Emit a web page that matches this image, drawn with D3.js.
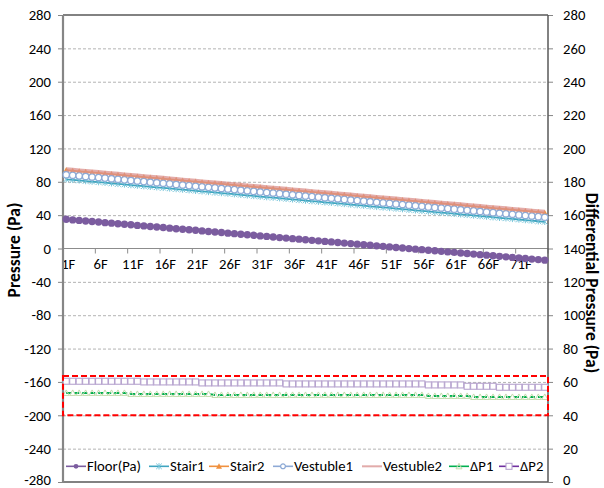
<!DOCTYPE html>
<html>
<head>
<meta charset="utf-8">
<script src="https://cdn.jsdelivr.net/npm/d3@7"></script>
<style>
  html, body { margin: 0; padding: 0; background: #fff; }
  svg { display: block; }
  text { font-family: Calibri, Carlito, Lato, "Liberation Sans", sans-serif; fill: #000; }
</style>
</head>
<body>
<svg id="chart" width="604" height="488"></svg>
<script>
// Floors 1F..75F
const floors = Array.from({length: 75}, (_, i) => (i + 1) + "F");

// Pressures on the left axis (Pa)
const floorPa = [
  35.0, 34.3, 33.7, 33.0, 32.4, 31.7, 31.0, 30.4, 29.7, 29.0,
  28.4, 27.7, 27.1, 26.4, 25.7, 25.1, 24.4, 23.7, 23.1, 22.4,
  21.8, 21.1, 20.4, 19.8, 19.1, 18.4, 17.8, 17.1, 16.5, 15.8,
  15.1, 14.5, 13.8, 13.1, 12.5, 11.8, 11.2, 10.5, 9.8, 9.2,
  8.5, 7.9, 7.2, 6.5, 5.9, 5.2, 4.5, 3.9, 3.2, 2.6,
  1.9, 1.2, 0.6, -0.1, -0.8, -1.4, -2.1, -2.7, -3.4, -4.1,
  -4.7, -5.4, -6.0, -6.7, -7.4, -8.0, -8.7, -9.4, -10.0, -10.7,
  -11.3, -12.0, -12.7, -13.3, -14.0
];
const stair1 = [
  83.0, 82.3, 81.6, 80.9, 80.2, 79.6, 78.9, 78.2, 77.5, 76.8,
  76.1, 75.4, 74.7, 74.0, 73.4, 72.7, 72.0, 71.3, 70.6, 69.9,
  69.2, 68.5, 67.8, 67.2, 66.5, 65.8, 65.1, 64.4, 63.7, 63.0,
  62.3, 61.6, 61.0, 60.3, 59.6, 58.9, 58.2, 57.5, 56.8, 56.1,
  55.4, 54.8, 54.1, 53.4, 52.7, 52.0, 51.3, 50.6, 49.9, 49.2,
  48.6, 47.9, 47.2, 46.5, 45.8, 45.1, 44.4, 43.7, 43.0, 42.4,
  41.7, 41.0, 40.3, 39.6, 38.9, 38.2, 37.5, 36.8, 36.2, 35.5,
  34.8, 34.1, 33.4, 32.7, 32.0
];
const stair2 = [
  94.0, 93.3, 92.6, 91.9, 91.2, 90.6, 89.9, 89.2, 88.5, 87.8,
  87.1, 86.4, 85.7, 85.0, 84.4, 83.7, 83.0, 82.3, 81.6, 80.9,
  80.2, 79.5, 78.8, 78.2, 77.5, 76.8, 76.1, 75.4, 74.7, 74.0,
  73.3, 72.6, 72.0, 71.3, 70.6, 69.9, 69.2, 68.5, 67.8, 67.1,
  66.4, 65.8, 65.1, 64.4, 63.7, 63.0, 62.3, 61.6, 60.9, 60.2,
  59.6, 58.9, 58.2, 57.5, 56.8, 56.1, 55.4, 54.7, 54.0, 53.4,
  52.7, 52.0, 51.3, 50.6, 49.9, 49.2, 48.5, 47.8, 47.2, 46.5,
  45.8, 45.1, 44.4, 43.7, 43.0
];
const vestuble1 = [
  88.5, 87.8, 87.1, 86.4, 85.7, 85.1, 84.4, 83.7, 83.0, 82.3,
  81.6, 80.9, 80.2, 79.5, 78.9, 78.2, 77.5, 76.8, 76.1, 75.4,
  74.7, 74.0, 73.3, 72.7, 72.0, 71.3, 70.6, 69.9, 69.2, 68.5,
  67.8, 67.1, 66.5, 65.8, 65.1, 64.4, 63.7, 63.0, 62.3, 61.6,
  60.9, 60.3, 59.6, 58.9, 58.2, 57.5, 56.8, 56.1, 55.4, 54.7,
  54.1, 53.4, 52.7, 52.0, 51.3, 50.6, 49.9, 49.2, 48.5, 47.9,
  47.2, 46.5, 45.8, 45.1, 44.4, 43.7, 43.0, 42.3, 41.7, 41.0,
  40.3, 39.6, 38.9, 38.2, 37.5
];
const vestuble2 = [
  95.0, 94.3, 93.6, 92.9, 92.2, 91.6, 90.9, 90.2, 89.5, 88.8,
  88.1, 87.4, 86.7, 86.0, 85.4, 84.7, 84.0, 83.3, 82.6, 81.9,
  81.2, 80.5, 79.8, 79.2, 78.5, 77.8, 77.1, 76.4, 75.7, 75.0,
  74.3, 73.6, 73.0, 72.3, 71.6, 70.9, 70.2, 69.5, 68.8, 68.1,
  67.4, 66.8, 66.1, 65.4, 64.7, 64.0, 63.3, 62.6, 61.9, 61.2,
  60.6, 59.9, 59.2, 58.5, 57.8, 57.1, 56.4, 55.7, 55.0, 54.4,
  53.7, 53.0, 52.3, 51.6, 50.9, 50.2, 49.5, 48.8, 48.2, 47.5,
  46.8, 46.1, 45.4, 44.7, 44.0
];

// Differential pressures on the right axis (Pa)
const dP1 = [
  53.4, 53.4, 53.4, 53.4, 53.4, 53.4, 53.4, 53.4, 53.4, 53.4,
  52.8, 52.8, 52.8, 52.8, 52.8, 52.8, 52.8, 52.8, 52.8, 52.8,
  52.8, 52.8, 52.8, 52.2, 52.2, 52.2, 52.2, 52.2, 52.2, 52.2,
  52.2, 52.2, 52.2, 52.2, 52.2, 52.2, 52.2, 52.2, 52.2, 52.2,
  52.2, 52.2, 52.2, 52.2, 52.2, 52.2, 52.2, 52.2, 52.2, 52.2,
  52.2, 52.2, 52.2, 52.2, 52.2, 52.2, 51.6, 51.6, 51.6, 51.6,
  51.6, 51.6, 51.6, 51.0, 51.0, 51.0, 51.0, 51.0, 51.0, 51.0,
  51.0, 51.0, 51.0, 51.0, 51.0
];
const dP2 = [
  60.4, 60.4, 60.4, 60.4, 60.4, 60.4, 60.4, 60.4, 60.4, 60.4,
  60.4, 60.4, 60.0, 60.0, 60.0, 60.0, 60.0, 60.0, 60.0, 60.0,
  60.0, 59.4, 59.4, 59.4, 59.4, 59.4, 59.4, 59.4, 59.4, 59.4,
  59.4, 59.4, 59.4, 59.4, 58.8, 58.8, 58.8, 58.8, 58.8, 58.8,
  58.8, 58.8, 58.8, 58.8, 58.8, 58.8, 58.8, 58.8, 58.8, 58.8,
  58.8, 58.8, 58.8, 58.8, 58.8, 58.8, 58.2, 58.2, 58.2, 58.2,
  58.2, 58.2, 57.4, 57.4, 57.4, 57.4, 57.4, 56.8, 56.8, 56.8,
  56.8, 56.8, 56.8, 56.8, 56.8
];

// Axis ticks
const leftTicks = [-280, -240, -200, -160, -120, -80, -40, 0, 40, 80, 120, 160, 200, 240, 280];
const rightTicks = [0, 20, 40, 60, 80, 100, 120, 140, 160, 180, 200, 220, 240, 260, 280];
// Band of interest on the differential axis
const band = [40, 63.6];

const svg = d3.select("#chart");
const L = 63, R = 548, T = 15, B = 482;
const FS = "14.7px";

const x = d3.scaleBand().domain(floors).range([L, R]);
const cx = d => x(d) + x.bandwidth() / 2;
const yL = d3.scaleLinear().domain([-280, 280]).range([B, T]);
const yR = d3.scaleLinear().domain([0, 280]).range([B, T]);

// Grid lines
svg.append("g").selectAll("line")
  .data(leftTicks.filter(v => v !== 0 && Math.abs(v) !== 280))
  .join("line")
  .attr("x1", L).attr("x2", R)
  .attr("y1", d => yL(d) + 0.5).attr("y2", d => yL(d) + 0.5)
  .attr("stroke", "#b3b3b3").attr("stroke-width", 1).attr("stroke-dasharray", "3,2");

// Left axis
const gl = svg.append("g").attr("transform", `translate(${L},0)`)
  .call(d3.axisLeft(yL).tickValues(leftTicks).tickSize(5).tickSizeOuter(0).tickFormat(d => String(d)));
gl.select(".domain").remove();
gl.selectAll(".tick line").attr("stroke", "#868686");
gl.selectAll(".tick text").attr("x", -12).style("font-size", FS).attr("fill", "#000")
  .attr("dy", d => d === -280 ? "0.2em" : "0.32em");

// Right axis
const gr = svg.append("g").attr("transform", `translate(${R},0)`)
  .call(d3.axisRight(yR).tickValues(rightTicks).tickSize(5).tickSizeOuter(0).tickFormat(d => String(d)));
gr.select(".domain").remove();
gr.selectAll(".tick line").attr("stroke", "#868686");
gr.selectAll(".tick text").attr("x", 15).style("font-size", FS).attr("fill", "#000")
  .attr("dy", d => d === 0 ? "0.2em" : "0.32em");

// Category axis at zero
const y0 = yL(0);
svg.append("line").attr("x1", L).attr("x2", R).attr("y1", y0).attr("y2", y0)
  .attr("stroke", "#8c8c8c").attr("stroke-width", 1.2);
const boundaries = floors.filter((d, i) => i % 5 === 0).map(d => x(d)).concat([R]);
svg.append("g").selectAll("line").data(boundaries).join("line")
  .attr("x1", d => d).attr("x2", d => d).attr("y1", y0).attr("y2", y0 + 5)
  .attr("stroke", "#8c8c8c");
svg.append("g").selectAll("text").data(floors.filter((d, i) => i % 5 === 0)).join("text")
  .attr("x", d => cx(d) + 2).attr("y", y0 + 20)
  .attr("text-anchor", "middle").style("font-size", FS).text(d => d);

// Plot frame
svg.append("line").attr("x1", L).attr("x2", R).attr("y1", T).attr("y2", T)
  .attr("stroke", "#595959").attr("stroke-width", 1.5);
svg.append("line").attr("x1", L).attr("x2", R).attr("y1", B).attr("y2", B)
  .attr("stroke", "#595959").attr("stroke-width", 1.5);
svg.append("line").attr("x1", R).attr("x2", R).attr("y1", T).attr("y2", B)
  .attr("stroke", "#595959").attr("stroke-width", 1.5);
svg.append("line").attr("x1", L).attr("x2", L).attr("y1", T).attr("y2", B)
  .attr("stroke", "#868686").attr("stroke-width", 2.2);

// Series
const series = [
  {name: "Floor(Pa)", values: floorPa, y: yL, color: "#7b5c9f", width: 1.5, marker: "dot", mcolor: "#7b5c9f"},
  {name: "Stair1", values: stair1, y: yL, color: "#3fa5c0", width: 1.8, marker: "star", mcolor: "#6cc0d6"},
  {name: "Stair2", values: stair2, y: yL, color: "#f0913f", width: 1.8, marker: "tri", mcolor: "#f0913f"},
  {name: "Vestuble1", values: vestuble1, y: yL, color: "#8eaad6", width: 1.5, marker: "ring", mcolor: "#8eaad6"},
  {name: "Vestuble2", values: vestuble2, y: yL, color: "#d9908e", width: 4, marker: null, opacity: 0.75},
  {name: "\u0394P1", values: dP1, y: yR, color: "#00b050", width: 2, dash: "5,3", marker: "tri-open", mcolor: "#c4dcae"},
  {name: "\u0394P2", values: dP2, y: yR, color: "#7030a0", width: 1.5, dash: "4,3", marker: "square", mcolor: "#b7a4cf"}
];

function drawMarker(g, type, color, size) {
  if (type === "dot") {
    g.append("circle").attr("r", size || 3.7).attr("fill", color);
  } else if (type === "ring") {
    g.append("circle").attr("r", size || 3.2).attr("fill", "#fff").attr("stroke", color).attr("stroke-width", 1.3);
  } else if (type === "tri") {
    g.append("path").attr("d", "M0,-3L3,2.5L-3,2.5Z").attr("fill", color);
  } else if (type === "tri-open") {
    g.append("path").attr("d", "M0,-3L3,2.5L-3,2.5Z").attr("fill", "none").attr("stroke", color).attr("stroke-width", 1);
  } else if (type === "square") {
    g.append("rect").attr("x", -3).attr("y", -3).attr("width", 6).attr("height", 6)
      .attr("fill", "#fff").attr("stroke", color).attr("stroke-width", 1.1);
  } else if (type === "star") {
    g.append("path").attr("d", "M-2.8,-2.8L2.8,2.8M-2.8,2.8L2.8,-2.8M0,-3.2L0,3.2")
      .attr("stroke", color).attr("stroke-width", 0.9).attr("fill", "none");
  }
}

series.forEach(s => {
  const line = d3.line().x((d, i) => cx(floors[i])).y(d => s.y(d));
  const g = svg.append("g");
  g.append("path").datum(s.values).attr("d", line)
    .attr("fill", "none").attr("stroke", s.color).attr("stroke-width", s.width)
    .attr("stroke-dasharray", s.dash || null).attr("opacity", s.opacity || 1);
  if (s.marker) {
    s.values.forEach((v, i) => {
      const m = g.append("g").attr("transform", `translate(${cx(floors[i])},${s.y(v)})`);
      drawMarker(m, s.marker, s.mcolor);
    });
  }
});

// Highlight box around the differential-pressure band
svg.append("rect")
  .attr("x", L).attr("y", yR(band[1]))
  .attr("width", R - L).attr("height", yR(band[0]) - yR(band[1]))
  .attr("fill", "none").attr("stroke", "#ff0000").attr("stroke-width", 2)
  .attr("stroke-dasharray", "6,3");

// Legend: each entry is a short line sample followed by its label
const legendX = [66, 149, 209, 273, 362, 449, 499];
const lg = svg.append("g").attr("transform", `translate(0,${yL(-260) + 1})`);
series.forEach((s, i) => {
  const item = lg.append("g").attr("transform", `translate(${legendX[i]},0)`);
  item.append("line").attr("x1", 0).attr("x2", 20).attr("y1", 0).attr("y2", 0)
    .attr("stroke", s.color).attr("stroke-width", s.name === "Vestuble2" ? 2 : 1.6)
    .attr("opacity", s.opacity || 1);
  if (s.marker) {
    const m = item.append("g").attr("transform", "translate(10,0)");
    drawMarker(m, s.marker, s.marker === "dot" ? s.color : s.mcolor, 2.4);
  }
  item.append("text").attr("x", 21).attr("y", 0).attr("dy", "0.35em")
    .style("font-size", FS).text(s.name);
});

// Axis titles
svg.append("text")
  .attr("transform", `translate(20,250) rotate(-90)`)
  .attr("text-anchor", "middle").style("font-size", "17.5px").style("font-weight", "bold")
  .text("Pressure (Pa)");
svg.append("text")
  .attr("transform", `translate(586,283) rotate(90)`)
  .attr("text-anchor", "middle").style("font-size", "17.5px").style("font-weight", "bold")
  .text("Differential Pressure (Pa)");
</script>
</body>
</html>
